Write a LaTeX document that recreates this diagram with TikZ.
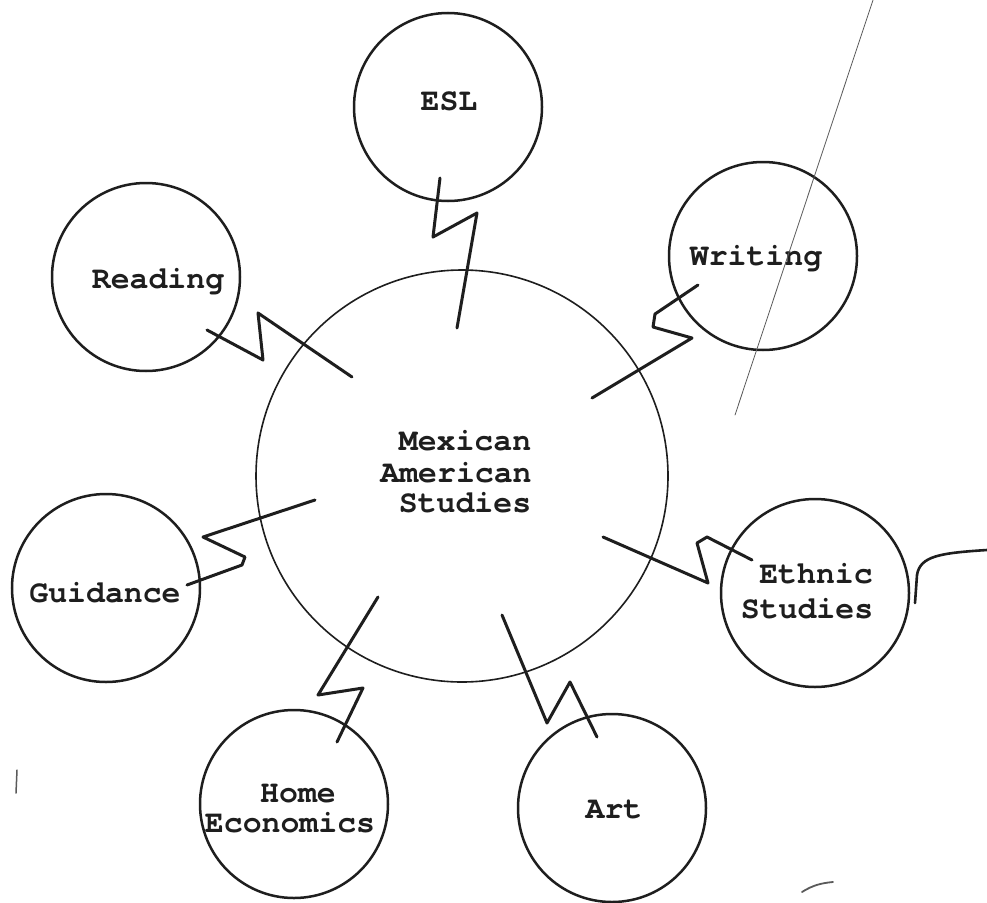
\documentclass[tikz,border=0pt]{standalone}
\usepackage{fontspec}
\setmonofont{TeX Gyre Cursor}
\definecolor{ink}{RGB}{30,30,30}
\definecolor{faint}{RGB}{90,90,90}
\begin{document}
\begin{tikzpicture}[x=1pt,y=-1pt,
  hub/.style={circle, draw=ink, line width=1.6pt, minimum size=412pt, inner sep=0pt},
  sat/.style={circle, draw=ink, line width=2.5pt, minimum size=188pt, inner sep=0pt},
  lbl/.style={font=\fontsize{31.5}{34}\selectfont\ttfamily\bfseries, text=ink, inner sep=0pt, anchor=base},
  zig/.style={draw=ink, line width=3pt, line join=round, line cap=round},
  scan/.style={draw=faint, line cap=round}]
\useasboundingbox (0,0) rectangle (987,902);
\fill[white] (0,0) rectangle (987,902);

% circles
\node[hub] (hub) at (462,476) {};
\node[sat] (esl) at (448,107) {};
\node[sat] (writing) at (763,256) {};
\node[sat] (reading) at (146,277) {};
\node[sat] (guidance) at (106,588) {};
\node[sat] (ethnic) at (815,593) {};
\node[sat] (home) at (294,804) {};
\node[sat] (art) at (612,808) {};

% labels
\node[lbl] (hubA) at (465,450) {Mexican};
\node[lbl] (hubB) at (456,482) {American};
\node[lbl] (hubC) at (465,512) {Studies};
\node[lbl] (eslT) at (449,110) {ESL};
\node[lbl] (writingT) at (756,265) {Writing};
\node[lbl] (readingT) at (158,288) {Reading};
\node[lbl] (guidanceT) at (105,602) {Guidance};
\node[lbl] (ethnicA) at (816,583) {Ethnic};
\node[lbl] (ethnicB) at (807,618) {Studies};
\node[lbl] (homeA) at (298,802) {Home};
\node[lbl] (homeB) at (290,832) {Economics};
\node[lbl] (artT) at (614,818) {Art};

% connector end points
\coordinate (eslIn) at (457,328);   \coordinate (eslOut) at (440,178);
\coordinate (wriIn) at (592,398);   \coordinate (wriOut) at (698,285);
\coordinate (reaIn) at (352,377);   \coordinate (reaOut) at (207,330);
\coordinate (guiIn) at (315,500);   \coordinate (guiOut) at (187,585);
\coordinate (ethIn) at (603,537);   \coordinate (ethOut) at (752,560);
\coordinate (homIn) at (378,597);   \coordinate (homOut) at (337,742);
\coordinate (artIn) at (502,615);   \coordinate (artOut) at (597,737);

% zigzag connectors
\draw[zig] (eslIn) -- (477,213) -- (433,237) -- (eslOut);
\draw[zig] (wriIn) -- (692,338) -- (653,327) -- (655,314) -- (wriOut);
\draw[zig] (reaIn) -- (258,313) -- (263,360) -- (reaOut);
\draw[zig] (guiIn) -- (203,537) -- (245,557) -- (242,565) -- (guiOut);
\draw[zig] (ethIn) -- (708,583) -- (697,543) -- (707,537) -- (ethOut);
\draw[zig] (homIn) -- (318,695) -- (363,688) -- (homOut);
\draw[zig] (artIn) -- (547,723) -- (570,682) -- (artOut);

% scan marks
\coordinate (s1a) at (873,0); \coordinate (s1b) at (735,415);
\draw[scan, line width=0.8pt] (s1a) -- (s1b);
\coordinate (s2a) at (915,603); \coordinate (s2b) at (987,550);
\draw[scan, draw=ink, line width=2.6pt] (s2a) -- (917,575) .. controls (920,556) and (940,553) .. (s2b);
\coordinate (s3a) at (802,892); \coordinate (s3b) at (833,882);
\draw[scan, line width=1.8pt] (s3a) .. controls (813,885) and (822,883) .. (s3b);
\coordinate (s4a) at (17,770); \coordinate (s4b) at (16,793);
\draw[scan, line width=1.5pt] (s4a) -- (s4b);
\end{tikzpicture}
\end{document}
